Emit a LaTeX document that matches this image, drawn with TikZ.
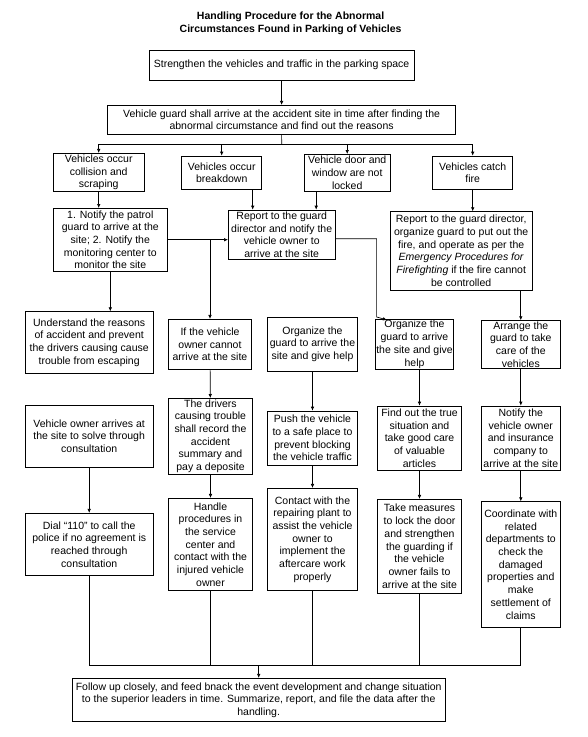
\documentclass[tikz,border=0pt]{standalone}
\usepackage{fontspec}
\setmainfont{Liberation Sans}
\usepackage{xcolor}
\usepackage{tikz}
\usetikzlibrary{positioning,arrows.meta}

\begin{document}
\begin{tikzpicture}[x=1pt, y=-1pt,
  box/.style={draw=black, line width=0.7pt, fill=white, align=center, inner sep=1pt,
    font=\fontsize{10.5}{12.7}\selectfont},
  wh/.style 2 args={minimum width=#1pt, minimum height=#2pt},
  ttl/.style={align=center, font=\bfseries\fontsize{10.5}{13.3}\selectfont},
  arr/.style={-{Latex[length=4pt,width=3.6pt]}, line width=0.7pt},
  lnk/.style={line width=0.7pt}
]
\useasboundingbox (0,0) rectangle (588,737);

\node[ttl] (title) at (290.6,23.3) {Handling Procedure for the Abnormal\\Circumstances Found in Parking of Vehicles};

% top of the chart
\node[box, wh={265.4}{30}] (strong) at (281.6,65) {Strengthen the vehicles and traffic in the parking space};
\node[box, wh={348}{29}] (guard) at (281.6,119.8) {Vehicle guard shall arrive at the accident site in time after finding the\\abnormal circumstance and find out the reasons};

% the four cases
\node[box, wh={90.7}{38.4}] (coll) at (98.7,172.5) {Vehicles occur\\collision and\\scraping};
\node[box, wh={80}{33.3}] (brk) at (221.7,172.7) {Vehicles occur\\breakdown};
\node[box, wh={85.7}{36.7}] (door) at (347.2,172.7) {Vehicle door and\\window are not\\locked};
\node[box, wh={80}{33.3}] (fire) at (472.7,172.7) {Vehicles catch\\fire};

\node[box, wh={114}{62.7}] (patrol) at (110.3,239.7) {1. Notify the patrol\\guard to arrive at the\\site; 2. Notify the\\monitoring center to\\monitor the site};
\node[box, wh={106.7}{49.3}] (report) at (281.7,234.7) {Report to the guard\\director and notify the\\vehicle owner to\\arrive at the site};
\node[box, wh={142.3}{78.3}] (firerep) at (461.2,250.8) {Report to the guard director,\\organize guard to put out the\\fire, and operate as per the\\\textit{Emergency Procedures for}\\\textit{Firefighting} if the fire cannot\\be controlled};

% first row of actions
\node[box, wh={128.3}{61.7}] (reason) at (89.2,342.5) {Understand the reasons\\of accident and prevent\\the drivers causing cause\\trouble from escaping};
\node[box, wh={83.3}{50}] (absent) at (210,344.3) {If the vehicle\\owner cannot\\arrive at the site};
\node[box, wh={90.3}{53.7}] (help3) at (312.5,344.2) {Organize the\\guard to arrive the\\site and give help};
\node[box, wh={74.4}{50}] (help4) at (414.5,344.3) {Organize the\\guard to arrive\\the site and give\\help};
\node[box, wh={79.7}{47.6}] (care) at (520.8,344.5) {Arrange the\\guard to take\\care of the\\vehicles};

% second row
\node[box, wh={128.3}{62.3}] (consult) at (89.2,436.2) {Vehicle owner arrives at\\the site to solve through\\consultation};
\node[box, wh={84.4}{75.7}] (record) at (210.5,436.2) {The drivers\\causing trouble\\shall record the\\accident\\summary and\\pay a deposite};
\node[box, wh={90.3}{54}] (push) at (312.5,438) {Push the vehicle\\to a safe place to\\prevent blocking\\the vehicle traffic};
\node[box, wh={84.4}{64}] (truth) at (419.5,438) {Find out the true\\situation and\\take good care\\of valuable\\articles};
\node[box, wh={79.7}{64}] (insure) at (520.8,438) {Notify the\\vehicle owner\\and insurance\\company to\\arrive at the site};

% third row
\node[box, wh={128.3}{62.4}] (police) at (89.2,544.5) {Dial “110” to call the\\police if no agreement is\\reached through\\consultation};
\node[box, wh={84.4}{92.4}] (center) at (210.5,544.5) {Handle\\procedures in\\the service\\center and\\contact with the\\injured vehicle\\owner};
\node[box, wh={90.3}{102.4}] (repair) at (312.5,539.5) {Contact with the\\repairing plant to\\assist the vehicle\\owner to\\implement the\\aftercare work\\properly};
\node[box, wh={84.4}{94}] (lock) at (419.5,546.3) {Take measures\\to lock the door\\and strengthen\\the guarding if\\the vehicle\\owner fails to\\arrive at the site};
\node[box, wh={79.7}{125.6}] (claims) at (520.8,564.5) {Coordinate with\\related\\departments to\\check the\\damaged\\properties and\\make\\settlement of\\claims};

\node[box, wh={372.6}{43.4}] (follow) at (258.7,700) {Follow up closely, and feed bnack the event development and change situation\\to the superior leaders in time. Summarize, report, and file the data after the\\handling.};

\coordinate (split) at (281.7,144.7);
\coordinate (join) at (258.7,665);

\draw[arr] (strong) -- (guard);
\draw[lnk] (guard.south) -- (split);
\draw[arr] (split) -| (coll.north);
\draw[arr] (split) -| (brk.north);
\draw[arr] (split) -| (door.north);
\draw[arr] (split) -| (fire.north);

\draw[arr] (coll.south) -- (coll.south |- patrol.north);
\draw[arr] (patrol.east) -- (patrol.east -| report.west);
\draw[arr] (patrol.east -| absent.north) -- (absent.north);
\draw[arr] (patrol.south) -- (patrol.south |- reason.north);
\draw[arr] ([xshift=31pt]brk.south) -- ([xshift=31pt]brk.south |- report.north);
\draw[arr] ([xshift=-31pt]door.south) -- ([xshift=-31pt]door.south |- report.north);
\draw[arr] ([yshift=-4pt]report.east) -| ([xshift=1.7pt,yshift=2pt]help4.north west) -- ([xshift=12pt,yshift=-1pt]help4.north west);
\draw[arr] (fire.south) -- (fire.south |- firerep.north);
\draw[arr] (firerep.south -| care.north) -- (care.north);

\draw[arr] (absent) -- (record);
\draw[arr] (help3) -- (push);
\draw[arr] (truth.north |- help4.south) -- (truth.north);
\draw[arr] (care) -- (insure);
\draw[arr] (consult) -- (police);
\draw[arr] (record) -- (center);
\draw[arr] (push) -- (repair);
\draw[arr] (truth) -- (lock);
\draw[arr] (insure) -- (claims);

\draw[lnk] (police.south) |- (join);
\draw[lnk] (center.south) |- (join);
\draw[lnk] (repair.south) |- (join);
\draw[lnk] (lock.south) |- (join);
\draw[lnk] (claims.south) |- (join);
\draw[arr] (join) -- (follow.north);
\end{tikzpicture}
\end{document}
